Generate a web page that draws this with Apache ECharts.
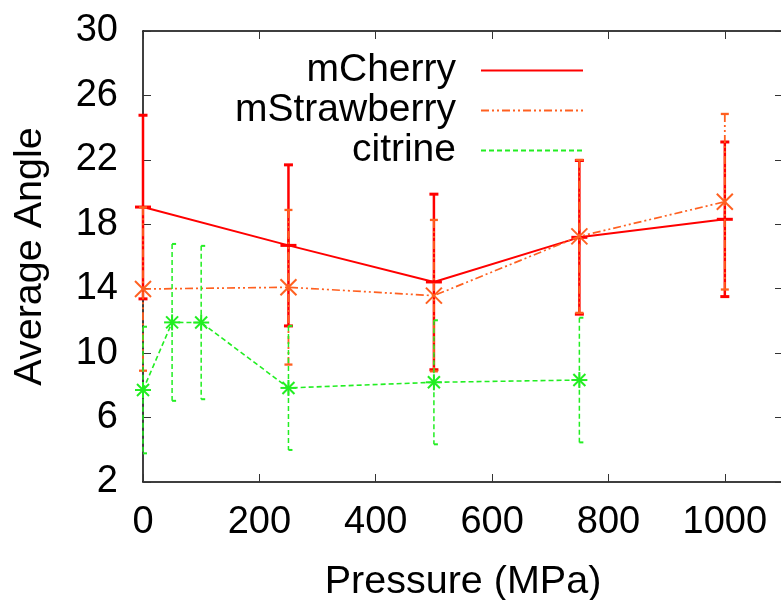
<!DOCTYPE html>
<html>
<head>
<meta charset="utf-8">
<script src="https://cdn.jsdelivr.net/npm/echarts@6/dist/echarts.min.js"></script>
<style>html,body{margin:0;padding:0;background:#fff;}#c{width:781px;height:600px;}</style>
</head>
<body>
<div id="c"></div>
<script>
// ---- data ----
const pressureA = [0, 250, 500, 750, 1000];
const mCherry = [19.07, 16.69, 14.42, 17.19, 18.31];
const mCherryErr = [5.7, 5.0, 5.45, 4.77, 4.8];
const mStrawberry = [13.98, 14.09, 13.57, 17.25, 19.4];
const mStrawberryErr = [5.07, 4.8, 4.7, 4.75, 5.45];
const pressureC = [0, 50, 100, 250, 500, 750];
const citrine = [7.71, 11.91, 11.9, 7.84, 8.19, 8.33];
const citrineErr = [3.93, 4.87, 4.76, 3.85, 3.85, 3.87];
const seriesNames = ['mCherry', 'mStrawberry', 'citrine'];
const xTitle = 'Pressure (MPa)';
const yTitle = 'Average Angle';

const RED = '#ff0000', ORANGE = '#ff6020', GREEN = '#22ee22';
const FONT = "'Liberation Sans', Arial, Helvetica, sans-serif";

function zip(xs, ys) { return xs.map((x, i) => [x, ys[i]]); }
function zip3(xs, ys, es) { return xs.map((x, i) => [x, ys[i], es[i]]); }

function errRender(color, dash, width, marker, capL, capR) {
  return function (params, api) {
    const x = api.value(0), y = api.value(1), e = api.value(2);
    const p = api.coord([x, y]);
    const t = api.coord([x, y + e]);
    const b = api.coord([x, y - e]);
    const st = { stroke: color, lineWidth: width, lineDash: dash, fill: null };
    const ms = { stroke: color, lineWidth: 2, fill: null };
    const ch = [
      { type: 'line', shape: { x1: t[0], y1: t[1], x2: b[0], y2: b[1] }, style: st },
      { type: 'line', shape: { x1: t[0] - capL, y1: t[1], x2: t[0] + capR, y2: t[1] }, style: Object.assign({}, st, { lineWidth: width + 0.5 }) },
      { type: 'line', shape: { x1: b[0] - capL, y1: b[1], x2: b[0] + capR, y2: b[1] }, style: Object.assign({}, st, { lineWidth: width + 0.5 }) }
    ];
    const s = 8, d = 8;
    if (marker === 'plus' || marker === 'star') {
      ch.push({ type: 'line', shape: { x1: p[0] - s, y1: p[1], x2: p[0] + s, y2: p[1] }, style: Object.assign({}, ms, { lineWidth: marker === 'plus' ? 3 : 2 }) });
      ch.push({ type: 'line', shape: { x1: p[0], y1: p[1] - s, x2: p[0], y2: p[1] + s }, style: ms });
    }
    if (marker === 'cross' || marker === 'star') {
      const k = marker === 'star' ? 6 : d;
      ch.push({ type: 'line', shape: { x1: p[0] - k, y1: p[1] - k, x2: p[0] + k, y2: p[1] + k }, style: ms });
      ch.push({ type: 'line', shape: { x1: p[0] - k, y1: p[1] + k, x2: p[0] + k, y2: p[1] - k }, style: ms });
    }
    return { type: 'group', children: ch };
  };
}

const dashS = [8, 3, 2, 3, 2, 3];
const dashC = [5, 3];

const chart = echarts.init(document.getElementById('c'), null, { renderer: 'canvas' });
const axisLine = { show: true, onZero: false, lineStyle: { color: '#000', width: 1.5 } };
const axisTick = { show: true, inside: true, length: 8, lineStyle: { color: '#333', width: 1 } };
chart.setOption({
  animation: false,
  backgroundColor: '#fff',
  textStyle: { fontFamily: FONT },
  grid: { left: 143, top: 31, width: 640, height: 451, containLabel: false, outerBoundsMode: 'none' },
  legend: {
    data: seriesNames,
    orient: 'vertical',
    align: 'right',
    right: 197,
    top: 51,
    padding: 0,
    itemWidth: 102,
    itemHeight: 14,
    itemGap: 1,
    itemStyle: { opacity: 0 },
    textStyle: { fontSize: 39, color: '#000', fontFamily: FONT, padding: [0, 20, 0, 0] },
    selectedMode: false
  },
  xAxis: [{
    type: 'value', min: 0, max: 1100, interval: 200, position: 'bottom',
    axisLine, axisTick, splitLine: { show: false },
    axisLabel: { fontSize: 38, color: '#000', margin: 22, fontFamily: FONT, showMaxLabel: false, formatter: v => String(v) },
    name: xTitle, nameLocation: 'middle', nameGap: 80,
    nameTextStyle: { fontSize: 39.5, color: '#000', fontFamily: FONT }
  }, {
    type: 'value', min: 0, max: 1100, interval: 200, position: 'top',
    axisLine, axisTick, splitLine: { show: false }, axisLabel: { show: false }
  }],
  yAxis: [{
    type: 'value', min: 2, max: 30, interval: 4, position: 'left',
    axisLine, axisTick, splitLine: { show: false },
    axisLabel: { fontSize: 38, color: '#000', margin: 25, fontFamily: FONT },
    name: yTitle, nameLocation: 'middle', nameGap: 93,
    nameTextStyle: { fontSize: 39.5, color: '#000', fontFamily: FONT }
  }, {
    type: 'value', min: 2, max: 30, interval: 4, position: 'right',
    axisLine, axisTick, splitLine: { show: false }, axisLabel: { show: false }
  }],
  series: [
    {
      name: 'mCherry', type: 'line', data: zip(pressureA, mCherry), symbol: 'none', z: 2,
      lineStyle: { color: RED, width: 2, type: 'solid' }, itemStyle: { color: RED }
    },
    {
      name: 'mCherry err', type: 'custom', data: zip3(pressureA, mCherry, mCherryErr), z: 2,
      renderItem: errRender(RED, null, 2.5, 'plus', 4.5, 4.5)
    },
    {
      name: 'mStrawberry', type: 'line', data: zip(pressureA, mStrawberry), symbol: 'none', z: 3,
      lineStyle: { color: ORANGE, width: 1.7, type: dashS }, itemStyle: { color: ORANGE }
    },
    {
      name: 'mStrawberry err', type: 'custom', data: zip3(pressureA, mStrawberry, mStrawberryErr), z: 3,
      renderItem: errRender(ORANGE, dashS, 1.8, 'cross', 4, 4)
    },
    {
      name: 'citrine', type: 'line', data: zip(pressureC, citrine), symbol: 'none', z: 4,
      lineStyle: { color: GREEN, width: 1.6, type: dashC }, itemStyle: { color: GREEN }
    },
    {
      name: 'citrine err', type: 'custom', data: zip3(pressureC, citrine, citrineErr), z: 4,
      renderItem: errRender(GREEN, dashC, 1.5, 'star', 0, 4)
    }
  ]
});
</script>
</body>
</html>
